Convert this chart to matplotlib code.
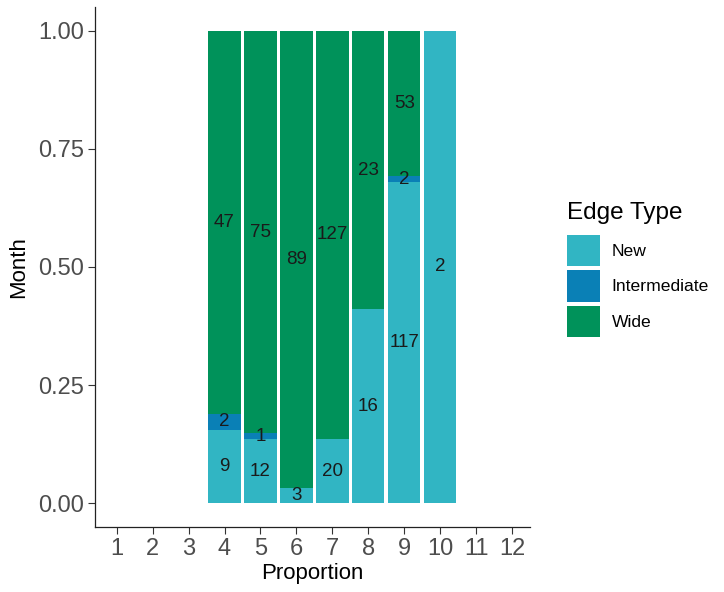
import numpy as np
import matplotlib
matplotlib.use("Agg")
import matplotlib.pyplot as plt
from matplotlib.patches import Patch

plt.rcParams['font.family'] = ['Liberation Sans', 'DejaVu Sans']

# Données : nombre d'arêtes par mois et par type
months = [4, 5, 6, 7, 8, 9, 10]
new_counts = [9, 12, 3, 20, 16, 117, 2]
intermediate_counts = [2, 1, 0, 0, 0, 2, 0]
wide_counts = [47, 75, 89, 127, 23, 53, 0]
x_ticks = list(range(1, 13))
y_ticks = [0.0, 0.25, 0.5, 0.75, 1.0]

colors = {
    'New': '#31b5c3',
    'Intermediate': '#0a80b6',
    'Wide': '#00925a',
}

series = [
    ('New', np.array(new_counts, dtype=float)),
    ('Intermediate', np.array(intermediate_counts, dtype=float)),
    ('Wide', np.array(wide_counts, dtype=float)),
]
totals = sum(s for _, s in series)

fig = plt.figure(figsize=(7.24, 5.92), dpi=100)
ax = fig.add_axes([0.131, 0.110, 0.601, 0.878])

bottom = np.zeros(len(months))
for name, counts in series:
    prop = counts / totals
    ax.bar(months, prop, bottom=bottom, width=0.9, color=colors[name],
           linewidth=0)
    for m, p, b, c in zip(months, prop, bottom, counts):
        if c > 0:
            ax.text(m, b + p / 2, f"{int(c)}", ha='center', va='center',
                    fontsize=13.5, color='#1a1a1a')
    bottom = bottom + prop

ax.set_xlim(0.39, 12.5)
ax.set_ylim(-0.05, 1.05)
ax.set_xticks(x_ticks)
ax.set_yticks(y_ticks)
ax.set_yticklabels([f"{v:.2f}" for v in y_ticks])
ax.tick_params(axis='both', labelsize=17, colors='#333333', labelcolor='#4d4d4d',
               length=5, width=0.8, pad=3)
for side in ['top', 'right']:
    ax.spines[side].set_visible(False)
for side in ['left', 'bottom']:
    ax.spines[side].set_linewidth(0.9)
    ax.spines[side].set_color('#222222')

ax.set_xlabel("Proportion", fontsize=16, labelpad=2)
ax.set_ylabel("Month", fontsize=16, labelpad=6)

handles = [Patch(facecolor=colors[n], linewidth=0) for n, _ in series]
leg = fig.legend(handles, [n for n, _ in series], title="Edge Type",
                 loc='upper left', bbox_to_anchor=(0.783, 0.658),
                 frameon=False, fontsize=12.6, title_fontsize=17.5,
                 handlelength=1.9, handleheight=2.4, handletextpad=0.65,
                 labelspacing=0.22, borderaxespad=0, borderpad=0)
leg._legend_box.align = "left"
leg._legend_box.sep = 7.5  # espace titre / clés

fig.savefig("out.png", dpi=100)
